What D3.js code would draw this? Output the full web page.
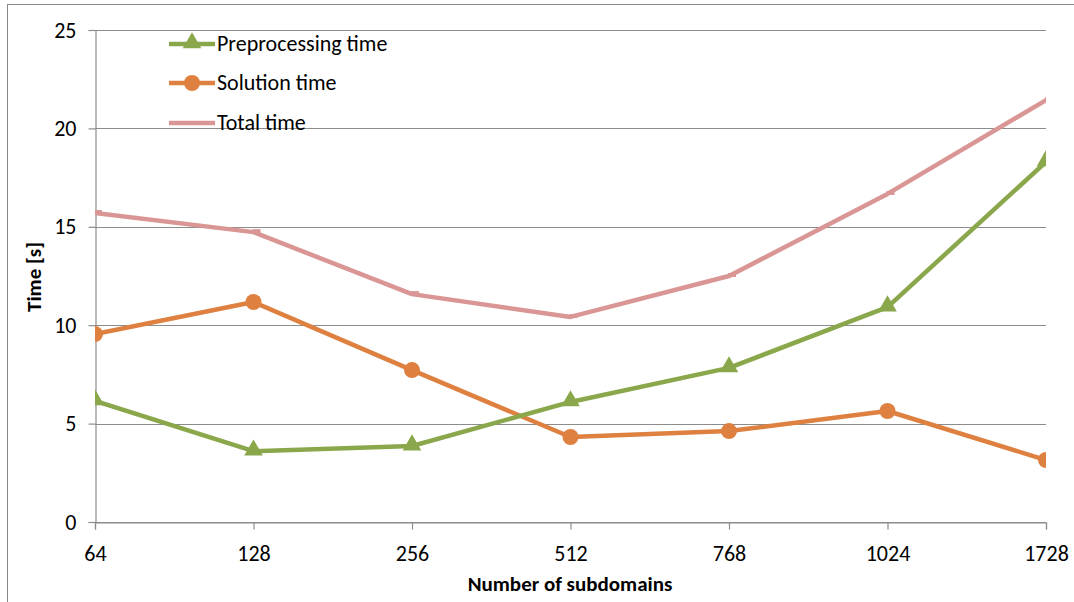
<!DOCTYPE html>
<html><head><meta charset="utf-8">
<script src="https://cdn.jsdelivr.net/npm/d3@7"></script>
<style>body{margin:0;background:#fff;} svg{display:block;font-family:Carlito,Lato,"Open Sans",sans-serif;}</style>
</head><body><svg id="c" width="1074" height="602"></svg>
<script>
const categories = ["64","128","256","512","768","1024","1728"];
const preprocessing = [6.15, 3.6, 3.86, 6.1, 7.83, 10.92, 18.3];
const solution = [9.55, 11.18, 7.72, 4.32, 4.62, 5.64, 3.15];
const total = [15.7, 14.73, 11.58, 10.42, 12.5, 16.67, 21.44];
const yTicks = [0, 5, 10, 15, 20, 25];
const seriesNames = ["Preprocessing time", "Solution time", "Total time"];
const colors = ["#8AA84B", "#DE8140", "#D99694"];

const svg = d3.select("#c");
const L = 95, R = 1046, T = 30, B = 522;
svg.append("rect").attr("x",7.5).attr("y",4.5).attr("width",1100).attr("height",700)
  .attr("fill","none").attr("stroke","#888").attr("stroke-width",1);

const x = d3.scalePoint().domain(categories).range([L, R]).padding(0);
const y = d3.scaleLinear().domain([0, 25]).range([B, T]);

// gridlines
svg.append("g").selectAll("line").data(yTicks).join("line")
  .attr("x1", L).attr("x2", R).attr("y1", d => Math.round(y(d))+0.5).attr("y2", d => Math.round(y(d))+0.5)
  .attr("stroke", "#8c8c8c").attr("stroke-width", 1.2);

// y axis
const ya = svg.append("g").attr("transform", `translate(${L+0.5},0)`)
  .call(d3.axisLeft(y).tickValues(yTicks).tickSize(7).tickPadding(12).tickFormat(d3.format("d")));
ya.select(".domain").attr("stroke","#8c8c8c").attr("stroke-width",1.2);
ya.selectAll(".tick line").attr("stroke","#8c8c8c").attr("stroke-width",1.2);
ya.selectAll("text").attr("font-size",22).attr("fill","#000").attr("font-family","Carlito,Lato,sans-serif");

// x axis
const xa = svg.append("g").attr("transform", `translate(0,${B+0.5})`)
  .call(d3.axisBottom(x).tickSize(7).tickPadding(16));
xa.select(".domain").attr("stroke","#8c8c8c").attr("stroke-width",1.2);
xa.selectAll(".tick line").attr("stroke","#8c8c8c").attr("stroke-width",1.2);
xa.selectAll("text").attr("font-size",22).attr("fill","#000").attr("font-family","Carlito,Lato,sans-serif");

// axis titles
svg.append("text").attr("x", 570).attr("y", 591).attr("text-anchor","middle")
  .attr("font-size",21).attr("font-weight","bold").text("Number of subdomains");
svg.append("text").attr("transform","translate(41,277) rotate(-90)").attr("text-anchor","middle")
  .attr("font-size",21).attr("font-weight","bold").text("Time [s]");

// plot
svg.append("clipPath").attr("id","pc").append("rect").attr("x",L).attr("y",0).attr("width",R-L).attr("height",B+1);
const plot = svg.append("g").attr("clip-path","url(#pc)");
const line = d3.line().x((d,i)=>x(categories[i])).y(d=>y(d));
const data = [preprocessing, solution, total];
const tri = d3.symbol().type(d3.symbolTriangle).size(150);

[2,1,0].forEach(k => {
  plot.append("path").datum(data[k]).attr("d", line).attr("fill","none")
    .attr("stroke", colors[k]).attr("stroke-width", 4.5).attr("stroke-linejoin","round");
});
[2,1,0].forEach(k => {
  const g = plot.append("g");
  if (k === 0) {
    g.selectAll("path").data(data[k]).join("path").attr("d", tri)
      .attr("transform",(d,i)=>`translate(${x(categories[i])},${y(d)-1})`).attr("fill", colors[k]);
  } else if (k === 1) {
    g.selectAll("circle").data(data[k]).join("circle").attr("cx",(d,i)=>x(categories[i])).attr("cy",d=>y(d))
      .attr("r", 8).attr("fill", colors[k]);
  } else {
    g.selectAll("rect").data(data[k]).join("rect").attr("x",(d,i)=>x(categories[i])-1).attr("y",d=>y(d)-3)
      .attr("width", 8).attr("height", 4).attr("fill", colors[k]);
  }
});

// legend
const legY = [44, 83, 123];
const lg = svg.append("g");
seriesNames.forEach((n,k) => {
  lg.append("line").attr("x1",169).attr("x2",215).attr("y1",legY[k]).attr("y2",legY[k])
    .attr("stroke",colors[k]).attr("stroke-width",4.5);
  if (k===0) lg.append("path").attr("d",tri).attr("transform",`translate(192,${legY[k]-1})`).attr("fill",colors[k]);
  if (k===1) lg.append("circle").attr("cx",192).attr("cy",legY[k]).attr("r",8).attr("fill",colors[k]);
  lg.append("text").attr("x",217).attr("y",legY[k]+7).attr("font-size",22).attr("fill","#000").text(n);
});
</script></body></html>
